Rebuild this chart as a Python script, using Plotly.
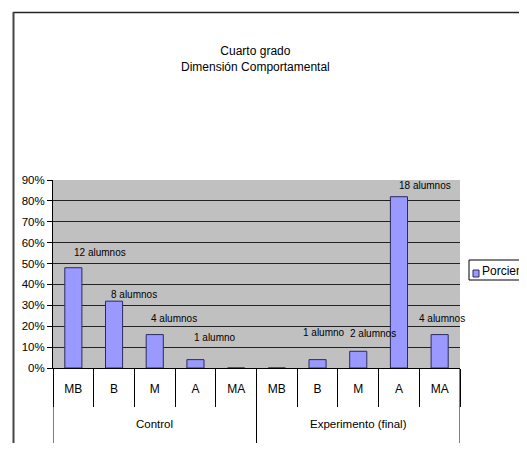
import plotly.graph_objects as go

groups = ["Control"] * 5 + ["Experimento (final)"] * 5
levels = ["MB", "B", "M", "A", "MA", "MB", "B", "M", "A", "MA"]
porciento = [0.48, 0.32, 0.16, 0.04, 0.0, 0.0, 0.04, 0.08, 0.82, 0.16]
labels = ["12 alumnos", "8 alumnos", "4 alumnos", "1 alumno", "",
          "", "1 alumno", "2 alumnos", "18 alumnos", "4 alumnos"]
y_ticks = [0, 0.1, 0.2, 0.3, 0.4, 0.5, 0.6, 0.7, 0.8, 0.9]
series_name = "Porciento"

# label placement offsets (px) relative to bar center / bar top
lab_dx = [-1.5, -5, -5.5, -3.5, 0, 0, -17, -10, -2, -23]
lab_dy = [15, 7, 16, 22, 0, 0, 27, 18, 11, 16]

FONT = "Liberation Sans, Arial, sans-serif"
OFF = 8  # page body margin

W, H = 527 - OFF, 451 - 2 * OFF
L, T = 53 - OFF, 180 - OFF
R = W - (460 - OFF)
B = H - (368 - OFF)
pw, ph = W - L - R, H - T - B


def px(sx):
    return (sx - OFF - L) / pw


def py(sy):
    return (H - B - (sy - OFF)) / ph


xs = list(range(len(levels)))
bounds = [i - 0.5 for i in range(len(levels) + 1)]

fig = go.Figure()
fig.add_trace(go.Bar(
    x=xs, y=porciento, name=series_name, showlegend=False,
    marker=dict(color="#9999ff", line=dict(color="#2b2b60", width=1)),
    width=0.42,
))

annotations = []
for i, (v, t) in enumerate(zip(porciento, labels)):
    if not t:
        continue
    annotations.append(dict(
        x=xs[i], y=v, xref="x", yref="y", text=t, showarrow=False,
        xanchor="left", yanchor="middle", xshift=lab_dx[i], yshift=lab_dy[i],
        font=dict(family=FONT, size=10, color="#000"),
    ))

# group labels and dividers
shapes = []
group_names = list(dict.fromkeys(groups))
for g in group_names:
    idx = [i for i, gg in enumerate(groups) if gg == g]
    annotations.append(dict(
        x=sum(idx) / len(idx), y=py(424), xref="x", yref="paper", text=g,
        showarrow=False, xanchor="center", yanchor="middle",
        font=dict(family=FONT, size=11.5, color="#000"),
    ))
group_bounds = [-0.5] + [i + 0.5 for i in range(len(groups) - 1)
                         if groups[i] != groups[i + 1]] + [len(groups) - 0.5]
for gb in group_bounds:
    shapes.append(dict(type="line", xref="x", yref="paper", x0=gb, x1=gb,
                       y0=0, y1=py(447), line=dict(color="#000", width=1)))

# legend box (drawn like the original, partly off the page)
shapes += [
    dict(type="rect", xref="paper", yref="paper",
         x0=px(469), x1=px(545), y0=py(280), y1=py(260),
         line=dict(color="#000", width=1), fillcolor="white"),
    dict(type="rect", xref="paper", yref="paper",
         x0=px(473), x1=px(479), y0=py(277), y1=py(270),
         line=dict(color="#2b2b60", width=1), fillcolor="#9999ff"),
    # outer chart frame (top and left edges)
    dict(type="line", xref="paper", yref="paper",
         x0=px(13), x1=px(540), y0=py(12.5), y1=py(12.5),
         line=dict(color="#222", width=1.5)),
    dict(type="line", xref="paper", yref="paper",
         x0=px(13.5), x1=px(13.5), y0=py(12), y1=py(470),
         line=dict(color="#444", width=2)),
]
annotations.append(dict(
    x=px(480), y=py(271), xref="paper", yref="paper", text=series_name,
    showarrow=False, xanchor="left", yanchor="middle",
    font=dict(family=FONT, size=12, color="#000"),
))

fig.update_layout(
    width=W, height=H,
    margin=dict(l=L, r=R, t=T, b=B, autoexpand=False),
    paper_bgcolor="white", plot_bgcolor="#c0c0c0",
    title=dict(text="Cuarto grado<br>Dimensión Comportamental",
               x=px(247), xanchor="center", y=1 - (55 - OFF) / H,
               yanchor="middle",
               font=dict(family=FONT, size=12, color="#000")),
    showlegend=False,
    annotations=annotations,
    shapes=shapes,
)
fig.update_yaxes(range=[0, 0.9], tickvals=y_ticks, tickformat=".0%",
                 showgrid=True, gridcolor="#222", gridwidth=1.2,
                 showline=True, linecolor="#000", linewidth=1,
                 ticks="outside", ticklen=5, tickcolor="#000",
                 tickfont=dict(family=FONT, size=11.5, color="#000"),
                 zeroline=False, fixedrange=True)
fig.update_xaxes(range=[-0.5, len(levels) - 0.5], tickvals=xs, ticktext=levels,
                 showline=True, linecolor="#000", linewidth=1,
                 ticks="outside", ticklen=10, tickcolor="rgba(0,0,0,0)",
                 minor=dict(tickvals=bounds, ticks="outside", ticklen=38,
                            tickcolor="#000", showgrid=False),
                 showgrid=False, zeroline=False,
                 tickfont=dict(family=FONT, size=12, color="#000"),
                 fixedrange=True)

fig.write_html("out.html")
